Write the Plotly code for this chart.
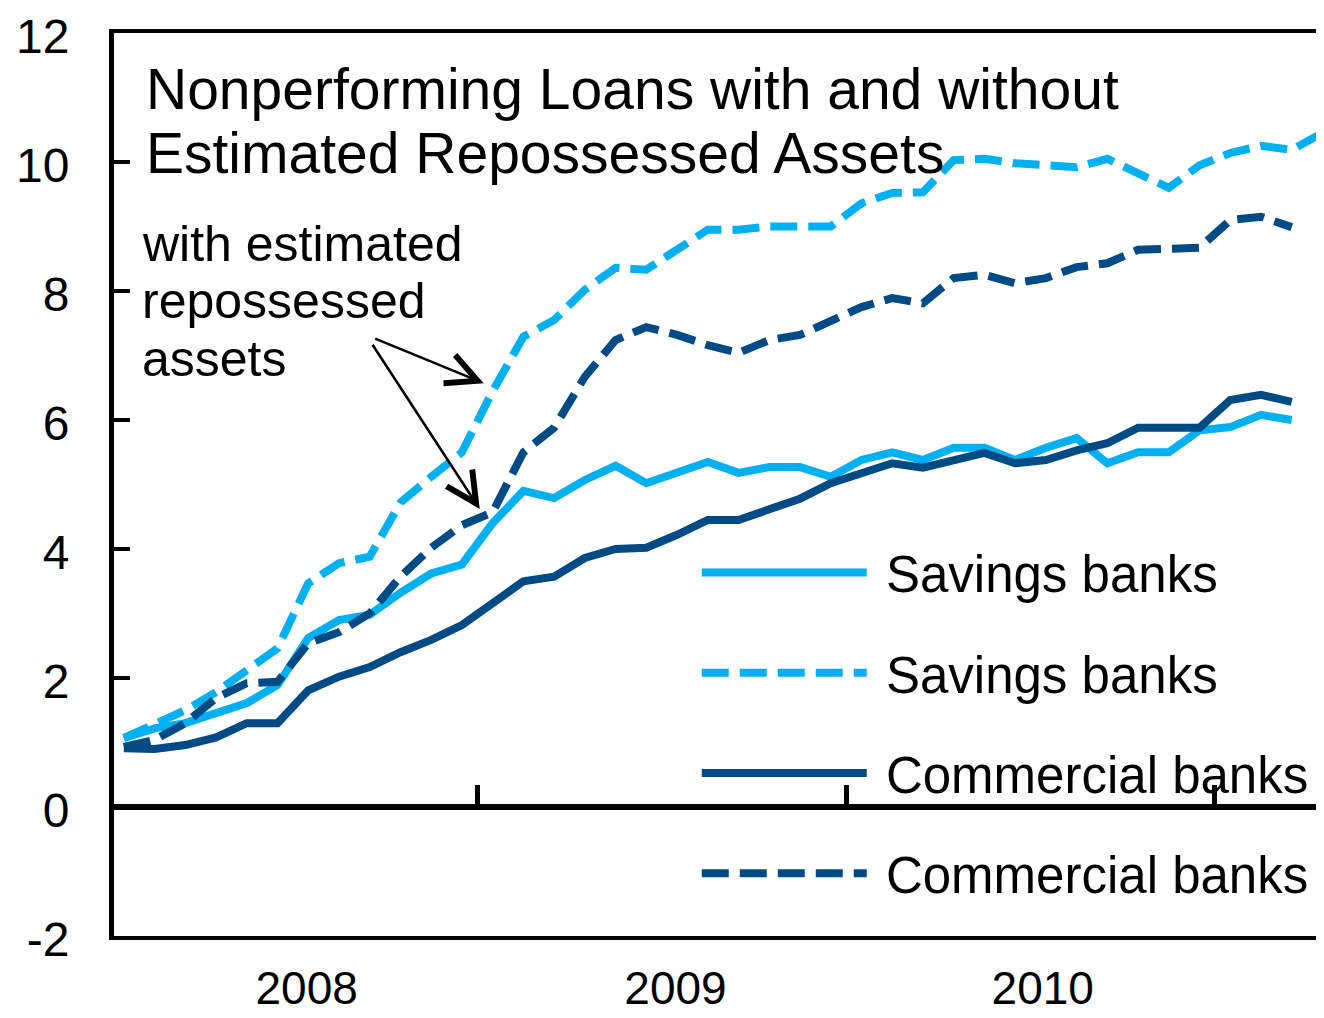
import plotly.graph_objects as go

# ---- data (monthly, Jan 2008 onward; index = month number) ----
savings = [1.07, 1.22, 1.30, 1.46, 1.61, 1.89, 2.62, 2.90, 2.98, 3.32, 3.62, 3.76,
           4.40, 4.90, 4.79, 5.07, 5.29, 5.02, 5.18, 5.35, 5.18, 5.27, 5.27, 5.12,
           5.38, 5.50, 5.38, 5.57, 5.57, 5.38, 5.57, 5.72, 5.33, 5.50, 5.50, 5.84,
           5.89, 6.08, 6.00]
savings_repo = [1.07, 1.27, 1.50, 1.78, 2.12, 2.46, 3.47, 3.78, 3.88, 4.72, 5.12, 5.50,
                6.45, 7.29, 7.55, 8.02, 8.36, 8.33, 8.64, 8.95, 8.95, 9.00, 9.00, 9.00,
                9.36, 9.52, 9.53, 10.03, 10.05, 9.98, 9.95, 9.92, 10.05, 9.83, 9.60, 9.95,
                10.14, 10.25, 10.19, 10.45]
commercial = [0.91, 0.90, 0.96, 1.08, 1.30, 1.30, 1.81, 2.02, 2.17, 2.40, 2.59, 2.82,
              3.16, 3.50, 3.57, 3.86, 4.00, 4.02, 4.22, 4.45, 4.45, 4.62, 4.78, 5.02,
              5.18, 5.33, 5.26, 5.38, 5.49, 5.33, 5.38, 5.53, 5.64, 5.88, 5.88, 5.88,
              6.31, 6.39, 6.28]
commercial_repo = [0.93, 1.04, 1.30, 1.69, 1.92, 1.94, 2.54, 2.71, 3.00, 3.57, 4.02, 4.37,
                   4.57, 5.50, 5.88, 6.67, 7.24, 7.44, 7.32, 7.16, 7.04, 7.24, 7.32, 7.55,
                   7.75, 7.89, 7.81, 8.20, 8.25, 8.12, 8.20, 8.37, 8.43, 8.64, 8.64, 8.67,
                   9.10, 9.15, 8.99]

year_labels = ["2008", "2009", "2010"]
year_label_pos = [5.95, 17.95, 29.9]
year_ticks = [11.5, 23.5, 35.5]
y_ticks = [-2, 0, 2, 4, 6, 8, 10, 12]
y_tick_text = ["-2", "0", "2", "4", "6", "8", "10", "12"]

LIGHT = "#00B0F0"
DARK = "#004A85"
DASH = "27px,11px"
FONT = "Liberation Sans, Arial, sans-serif"
NB = "\u00a0"

series = [
    ("Savings banks", savings, LIGHT, "solid"),
    ("Savings banks", savings_repo, LIGHT, DASH),
    ("Commercial banks", commercial, DARK, "solid"),
    ("Commercial banks", commercial_repo, DARK, DASH),
]

fig = go.Figure()
for k, (name, vals, col, dash) in enumerate(series):
    fig.add_trace(go.Scatter(
        x=list(range(len(vals))), y=vals, mode="lines", name=NB + name,
        legendgroup=f"g{k}",
        line=dict(color=col, width=8, dash=dash),
    ))
# empty helper trace so the zero-line axis (x2) is rendered
fig.add_trace(go.Scatter(x=[], y=[], xaxis="x2", yaxis="y",
                         showlegend=False, hoverinfo="skip"))

# page has an 8px body margin; figure is placed at (8, 8)
OFF = 8
W, H = 1324 - OFF, 1018 - OFF
PL, PT, PB = 113.5, 33, 936          # plot area edges in page pixels
ML, MT = PL - OFF, PT - OFF
MB = H - (PB - OFF)
MR = 0
PW = W - ML - MR
PH = PB - PT
xr = [-0.32, 39.05]
yr = [-2, 12]

fig.update_layout(
    width=W, height=H,
    margin=dict(l=ML, r=MR, t=MT, b=MB, autoexpand=False),
    paper_bgcolor="white", plot_bgcolor="white",
    font=dict(family=FONT, color="black"),
    showlegend=True,
    legend=dict(
        x=(696.5 - PL) / PW, y=0.4465, xanchor="left", yanchor="top",
        font=dict(size=51, family=FONT, color="black"),
        bgcolor="rgba(0,0,0,0)", itemwidth=165,
        tracegroupgap=31, traceorder="grouped",
    ),
    xaxis=dict(
        range=xr, showgrid=False, zeroline=False, automargin=False,
        showline=True, linecolor="black", linewidth=4, mirror=True,
        tickvals=year_label_pos, ticktext=year_labels, ticks="",
        tickfont=dict(size=46, family=FONT, color="black"),
        ticklabelstandoff=9, ticklabeloverflow="allow",
    ),
    xaxis2=dict(
        range=xr, overlaying="x", anchor="free", automargin=False,
        position=(0 - yr[0]) / (yr[1] - yr[0]),
        showgrid=False, zeroline=False,
        showline=True, linecolor="black", linewidth=6,
        tickvals=year_ticks, ticks="inside", ticklen=19, tickwidth=5,
        tickcolor="black", showticklabels=False,
    ),
    yaxis=dict(
        range=yr, showgrid=False, zeroline=False, automargin=False,
        showline=True, linecolor="black", linewidth=5,
        tickvals=y_ticks, ticktext=y_tick_text, ticks="inside", ticklen=16, tickwidth=4,
        tickcolor="black",
        tickfont=dict(size=48, family=FONT, color="black"),
        ticklabelstandoff=30, ticklabeloverflow="allow", ticklabelshift=3,
    ),
)

def py(p):
    return (PB - p) / PH

def px(p):
    return (p - PL) / PW

annos = [
    dict(text="Nonperforming Loans with and without", y=88.5, size=57, xp=144),
    dict(text="Estimated Repossessed Assets", y=153.5, size=57, xp=144),
    dict(text="with estimated", y=244, size=50, xp=140),
    dict(text="repossessed", y=301, size=50, xp=140),
    dict(text="assets", y=359, size=50, xp=140),
]
for a in annos:
    fig.add_annotation(
        text=a["text"], xref="paper", yref="paper",
        x=px(a["xp"]), y=py(a["y"]), xanchor="left", yanchor="middle",
        showarrow=False, font=dict(size=a["size"], family=FONT, color="black"),
    )

# arrows pointing at the "with repossessed assets" lines
for (tx, ty, sx, sy) in [(11.71, 6.57, 8.13, 7.27), (11.58, 4.62, 8.06, 7.19)]:
    fig.add_annotation(
        x=tx, y=ty, ax=sx, ay=sy, xref="x", yref="y", axref="x", ayref="y",
        text="", showarrow=True, arrowhead=5, arrowsize=2.4, arrowwidth=2.5,
        arrowcolor="black",
    )

fig.write_html("out.html")
